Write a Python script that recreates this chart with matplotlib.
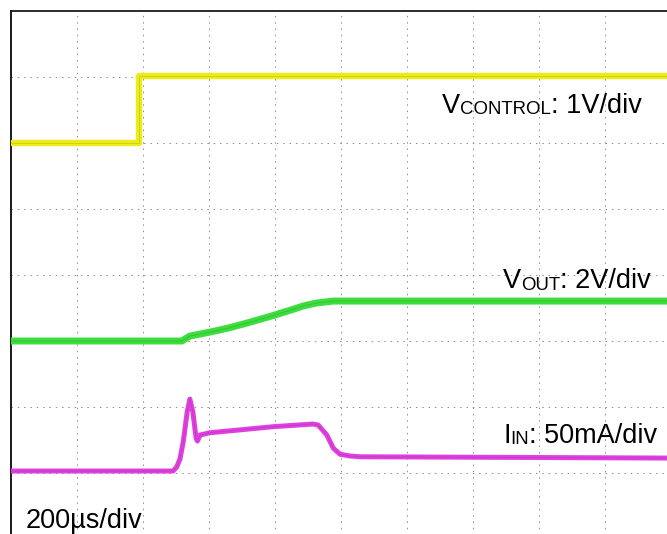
import matplotlib
matplotlib.use("Agg")
import matplotlib.pyplot as plt
import numpy as np

# ---- data (time in microseconds) ----
# V_CONTROL, volts (1 V/div)
vctrl_t = [0, 388, 388, 2000]
vctrl_v = [0.0, 0.0, 1.02, 1.02]

# V_OUT, volts (2 V/div)
vout_t = [0, 518, 542, 603, 653, 703, 794, 855, 885, 925, 976, 2000]
vout_v = [0.0, 0.0, 0.15, 0.27, 0.38, 0.51, 0.77, 0.96, 1.06, 1.15, 1.21, 1.21]

# I_IN, mA (50 mA/div)
iin_t = [0, 491, 502, 512, 522, 534, 542, 551, 561, 565, 573, 603, 795, 916, 931,
         957, 977, 997, 1027, 1058, 2000]
iin_i = [0.0, 0.0, 3.0, 9.1, 22.2, 44.9, 54.5, 44.9, 24.8, 22.7, 27.3, 29.0, 33.6,
         35.6, 34.8, 27.3, 17.2, 12.7, 11.4, 10.8, 9.8]

labels = {
    "vctrl": [("V", "main"), ("CONTROL", "sub"), (": 1V/div", "main")],
    "vout": [("V", "main"), ("OUT", "sub"), (": 2V/div", "main")],
    "iin": [("I", "main"), ("IN", "sub"), (": 50mA/div", "main")],
}
timebase = "200µs/div"

# ---- scope settings (scale per division, channel position in divisions) ----
ctrl_scale, ctrl_pos = 1.0, 6.0
out_scale, out_pos = 2.0, 3.0
iin_scale, iin_pos = 50.0, 1.03

W, H = 667, 534
fig = plt.figure(figsize=(W / 100, H / 100), dpi=100)
# screen: 10 x 8 divisions, 66 px per division, top-left at (11, 11)
ax = fig.add_axes([11 / W, (H - 539) / H, 660 / W, 528 / H])
ax.set_xlim(0, 2000)
ax.set_ylim(0, 8)
ax.set_xticks([])
ax.set_yticks([])

grid_kw = dict(color="#8c8c8c", lw=0.7, ls=(0, (1.5, 5)), zorder=1)
for k in range(1, 10):
    ax.axvline(k * 200, **grid_kw)
for k in range(1, 8):
    ax.axhline(k, **grid_kw)

for side in ["right", "bottom"]:
    ax.spines[side].set_visible(False)
ax.spines["top"].set_color("#1a1a1a")
ax.spines["top"].set_linewidth(1.3)
ax.spines["left"].set_color("#1a1a1a")
ax.spines["left"].set_linewidth(1.4)
ax.spines["left"].set_linestyle((0, (3, 1)))


def trace(t, vals, scale, pos, color, dark, lw):
    y = np.asarray(vals) / scale + pos
    ax.plot(t, y, color=color, lw=lw, solid_joinstyle="round", solid_capstyle="butt", zorder=3)
    ax.plot(t, y, color=dark, lw=0.6, alpha=0.35, zorder=4)


trace(vctrl_t, vctrl_v, ctrl_scale, ctrl_pos, "#ecec18", "#8f8f20", 4.6)
trace(vout_t, vout_v, out_scale, out_pos, "#3ddd3d", "#1d8a1d", 5.0)
trace(iin_t, iin_i, iin_scale, iin_pos, "#e040e0", "#8a2a8a", 3.6)

renderer = fig.canvas.get_renderer()
sizes = {"main": 19.5, "sub": 13.4}
shift = {"main": 0.0, "sub": 1.5}


def runs_text(x_px, base_px, runs):
    x = x_px
    for s, kind in runs:
        t = fig.text(x / W, 1 - (base_px + shift[kind]) / H, s, fontsize=sizes[kind],
                     family=["Liberation Sans", "DejaVu Sans"], ha="left", va="baseline",
                     color="black", zorder=6)
        x += t.get_window_extent(renderer).width


runs_text(442, 113, labels["vctrl"])
runs_text(503, 288, labels["vout"])
runs_text(503, 443, labels["iin"])
fig.text(26 / W, 1 - 528 / H, timebase, fontsize=19.5, family=["Liberation Sans", "DejaVu Sans"],
         ha="left", va="baseline", color="black", zorder=6)

fig.savefig("out.png", dpi=100)
